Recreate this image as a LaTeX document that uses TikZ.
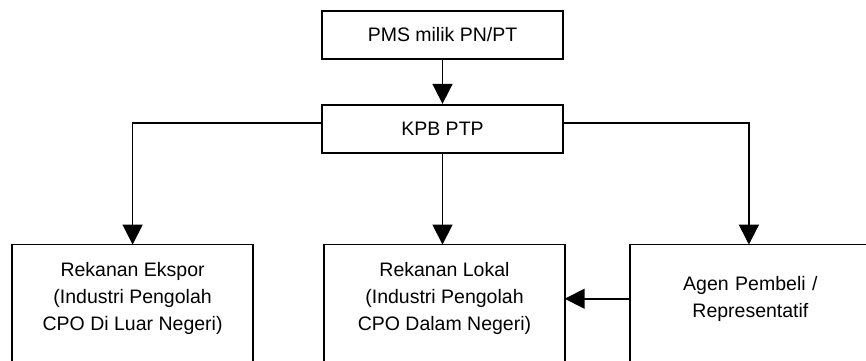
\documentclass[tikz,border=0pt]{standalone}
\usepackage{fontspec}
\setmainfont{Liberation Sans}
\usepackage{tikz}
\usetikzlibrary{
    arrows.meta,
    positioning,
    calc
}
\definecolor{Cline}{RGB}{0, 0, 0}
\tikzset{
    ctop/.style={
        rectangle, draw=Cline, line width=1.7pt,
        fill=white, text=black, minimum width=241pt, minimum height=48pt,
        align=center, font=\fontsize{19.5}{27}\selectfont, inner sep=4pt
    },
    cbox/.style={
        rectangle, draw=none, text=black, minimum width=241pt, minimum height=108pt,
        align=center, font=\fontsize{19.5}{27}\selectfont, inner sep=4pt
    },
    cline/.style={draw=Cline, line width=1.7pt},
    carr/.style={-{Triangle[length=20pt, width=20pt]}, line width=1.7pt, Cline},
}

\begin{document}
\begin{tikzpicture}

    \useasboundingbox (0,0) rectangle (866pt,-360pt);
    \clip (0,0) rectangle (866pt,-360pt);

    \node [ctop] (pms) at (442.5pt,-35pt) {PMS milik PN/PT};
    \node [ctop, below=44pt of pms] (kpb) {KPB PTP};
    \node [cbox, below=91pt of kpb, xshift=2pt, minimum width=240pt]
        (lokal) {Rekanan Lokal \\ (Industri Pengolah \\ CPO Dalam Negeri)};
    \node [cbox, left=71pt of lokal]
        (ekspor) {Rekanan Ekspor \\ (Industri Pengolah \\ CPO Di Luar Negeri)};
    \node [cbox, right=70pt of lokal, text width=231pt, align=center, xshift=-5pt]
        (agen) {Agen Pembeli / \\ Representatif};

    \foreach \n in {ekspor,lokal,agen}
        \draw [cline] (\n.north west) rectangle ([yshift=-30pt]\n.south east);

    \draw [carr] (pms) -- (kpb);
    \draw [carr] (kpb) -- (kpb |- lokal.north);
    \draw [carr] ([yshift=5.5pt]kpb.west) -| (ekspor.north);
    \draw [carr] ([yshift=5.5pt]kpb.east) -| ([xshift=-1.5pt]agen.north);
    \draw [carr] (agen.west) -- (lokal.east);

\end{tikzpicture}
\end{document}
